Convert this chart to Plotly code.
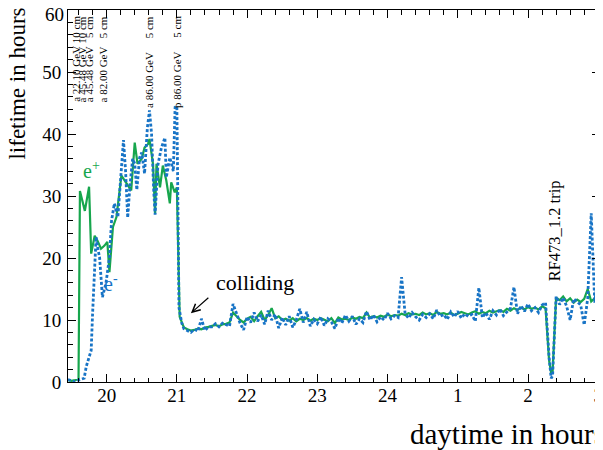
import plotly.graph_objects as go

# ---------------- data ----------------
t_ep_early = [19.45, 19.50, 19.55, 19.60, 19.62, 19.69, 19.75, 19.78, 19.83, 19.87,
              19.92, 19.97, 20.01, 20.04, 20.09, 20.14, 20.21, 20.28, 20.35, 20.40,
              20.44, 20.50, 20.54, 20.59, 20.61, 20.66, 20.69, 20.71, 20.76, 20.80,
              20.85, 20.90, 20.92, 20.97, 21.00, 21.04]
v_ep_early = [0.3, 0.2, 0.3, 0.5, 30.8, 27.6, 31.5, 20.7, 23.6, 22.8,
              21.5, 22.0, 22.6, 17.7, 25.0, 26.6, 33.3, 32.0, 30.9, 38.6,
              35.2, 36.0, 37.8, 38.4, 39.2, 35.2, 27.2, 35.2, 31.4, 34.9,
              32.5, 28.8, 32.2, 30.6, 31.4, 10.5]

t_em_early = [19.45, 19.50, 19.55, 19.60, 19.63, 19.68, 19.71, 19.74, 19.78, 19.80,
              19.83, 19.85, 19.87, 19.90, 19.92, 19.94, 19.99, 20.04, 20.07, 20.11,
              20.16, 20.19, 20.24, 20.27, 20.30, 20.33, 20.37, 20.40, 20.43, 20.47,
              20.50, 20.54, 20.58, 20.61, 20.64, 20.67, 20.69, 20.73, 20.78, 20.83,
              20.85, 20.90, 20.95, 20.975, 21.00, 21.03, 21.07]
v_em_early = [0.4, 0.2, 0.0, 0.3, 0.4, 0.6, 2.5, 3.8, 5.1, 11.0,
              19.6, 23.4, 21.8, 20.1, 16.9, 13.7, 15.9, 20.1, 26.0, 28.8,
              26.6, 30.9, 39.0, 34.0, 26.5, 31.4, 36.0, 35.2, 31.0, 36.2,
              37.0, 33.6, 41.0, 43.8, 40.0, 31.0, 27.0, 35.0, 37.8, 39.4,
              33.0, 36.2, 34.0, 44.3, 44.5, 12.0, 9.5]

t_late = [21.10, 21.15, 21.20, 21.25, 21.30, 21.35, 21.40, 21.45, 21.50, 21.55,
          21.60, 21.65, 21.70, 21.75, 21.80, 21.85, 21.90, 21.95, 22.00,
          22.05, 22.10, 22.15, 22.20, 22.25, 22.30, 22.35, 22.40, 22.45, 22.50,
          22.55, 22.60, 22.65, 22.70, 22.75, 22.80, 22.85, 22.90, 22.95, 23.00,
          23.05, 23.10, 23.15, 23.20, 23.25, 23.30, 23.35, 23.40, 23.45, 23.50,
          23.55, 23.60, 23.65, 23.70, 23.75, 23.80, 23.85, 23.90, 23.95, 24.00,
          24.05, 24.10, 24.15, 24.20, 24.25, 24.30, 24.35, 24.40, 24.45, 24.50,
          24.55, 24.60, 24.65, 24.70, 24.75, 24.80, 24.85, 24.90, 24.95, 25.00,
          25.05, 25.10, 25.15, 25.20, 25.25, 25.30, 25.35, 25.40, 25.45, 25.50,
          25.55, 25.60, 25.65, 25.70, 25.75, 25.80, 25.85, 25.90, 25.95, 26.00,
          26.05, 26.10, 26.15, 26.20, 26.25, 26.30, 26.33, 26.35, 26.40, 26.45,
          26.50, 26.55, 26.60, 26.65, 26.70, 26.75, 26.80, 26.85, 26.90, 26.95,
          27.00, 27.05]
v_ep_late = [8.8, 8.5, 8.3, 8.4, 8.6, 8.5, 8.8, 8.9, 9.0, 9.2,
             9.0, 9.3, 9.4, 9.6, 11.2, 10.6, 10.0, 9.6, 10.2,
             10.5, 9.8, 10.6, 11.3, 10.0, 10.8, 11.9, 10.3, 10.6, 10.0,
             10.2, 9.9, 10.3, 9.8, 10.2, 10.0, 10.3, 9.9, 10.2, 10.0,
             10.3, 10.1, 9.8, 10.3, 9.5, 10.4, 10.1, 10.2, 10.0, 10.4,
             10.2, 10.5, 10.3, 11.2, 10.4, 10.6, 10.4, 10.7, 10.5, 10.9,
             10.6, 10.8, 10.7, 11.0, 10.8, 11.1, 10.9, 11.0, 10.8, 11.2,
             10.9, 11.1, 10.8, 11.3, 11.0, 11.1, 10.9, 11.2, 10.8, 11.0,
             11.3, 11.1, 10.9, 11.2, 11.4, 11.0, 11.3, 11.1, 11.5, 11.2,
             11.4, 11.6, 11.3, 11.8, 11.5, 11.9, 11.6, 12.0, 11.7, 12.1,
             11.8, 12.0, 11.7, 12.2, 11.9, 3.5, 1.4, 1.6, 13.6, 13.2,
             13.8, 13.0, 13.5, 12.8, 13.3, 12.9, 13.4, 15.0, 13.0, 13.5,
             13.2, 14.0]
v_em_late = [8.6, 8.3, 8.0, 8.5, 8.2, 10.2, 8.3, 8.9, 8.9, 9.4,
             8.9, 9.5, 9.2, 9.0, 12.6, 11.0, 9.5, 8.4, 10.5,
             9.6, 11.2, 9.8, 10.8, 9.3, 11.5, 10.0, 10.9, 8.7, 10.4,
             9.2, 10.6, 8.8, 10.0, 11.8, 9.6, 11.3, 9.0, 10.1, 9.4,
             10.5, 9.1, 10.2, 9.7, 8.6, 10.3, 9.5, 10.8, 9.8, 10.6,
             9.3, 10.2, 9.6, 11.4, 10.0, 10.8, 9.7, 10.5, 10.0, 11.1,
             10.2, 10.7, 10.4, 16.9, 11.0, 10.3, 11.2, 10.5, 10.0, 10.9,
             10.4, 11.0, 10.2, 11.6, 10.6, 10.9, 10.1, 11.3, 10.5, 11.4,
             10.3, 11.0, 10.6, 10.9, 9.8, 15.2, 10.4, 11.2, 10.1, 11.5,
             10.8, 11.8, 10.7, 11.3, 11.9, 15.3, 11.0, 12.3, 11.4, 12.6,
             11.5, 12.0, 11.2, 12.4, 12.8, 4.0, 0.6, 1.0, 13.8, 12.5,
             13.6, 12.2, 10.0, 13.4, 13.0, 12.4, 9.2, 13.5, 27.2, 12.8,
             17.5, 13.8]

x_tick_vals = [20, 21, 22, 23, 24, 25, 26, 27]
x_tick_text = ["20", "21", "22", "23", "24", "1", "2", "3"]
y_tick_vals = [0, 10, 20, 30, 40, 50, 60]
y_tick_text = ["0", "10", "20", "30", "40", "50", ""]   # "60" is placed as a text below

event_t = [19.56, 19.655, 19.75, 19.954, 20.602, 21.0]
event_labels = ["a 22.10 GeV\u00a010 cm", "a 45.48 GeV\u00a010 cm",
                "a 45.48 GeV\u00a0\u00a0\u00a05 cm", "a 82.00 GeV\u00a0\u00a0\u00a05 cm",
                "a 86.00 GeV\u00a0\u00a0\u00a0\u00a0\u00a05 cm",
                "p 86.00 GeV\u00a0\u00a0\u00a0\u00a0\u00a05 cm"]

GREEN = "#17a64d"
BLUE = "#1874c6"
FONT = "Liberation Serif"
X_RANGE = [19.45, 27.025]
Y_RANGE = [0, 60]

t_ep = t_ep_early + t_late
v_ep = v_ep_early + v_ep_late
t_em = t_em_early + t_late
v_em = v_em_early + v_em_late

fig = go.Figure()
fig.add_trace(go.Scatter(x=t_ep, y=v_ep, mode="lines", name="e+",
                         line=dict(color=GREEN, width=2.2), showlegend=False,
                         hoverinfo="skip"))
fig.add_trace(go.Scatter(x=t_em, y=v_em, mode="lines", name="e-",
                         line=dict(color=BLUE, width=2.8, dash="3px,2px"),
                         showlegend=False, hoverinfo="skip"))

axis_common = dict(showgrid=False, zeroline=False, showline=True, linecolor="black",
                   linewidth=1, mirror="allticks", ticks="inside", tickcolor="black",
                   tickwidth=1, ticklen=8, ticklabeloverflow="allow", automargin=False,
                   tickfont=dict(family=FONT, size=19, color="black"))

fig.update_xaxes(range=X_RANGE, tickvals=x_tick_vals, ticktext=x_tick_text,
                 minor=dict(dtick=0.2, tick0=20, ticks="inside", ticklen=4.5,
                            tickcolor="black", tickwidth=1),
                 ticklabelstandoff=-4, **axis_common)
fig.update_yaxes(range=Y_RANGE, tickvals=y_tick_vals, ticktext=y_tick_text,
                 minor=dict(dtick=2, tick0=0, ticks="inside", ticklen=4.5,
                            tickcolor="black", tickwidth=1),
                 ticklabelstandoff=2, **axis_common)

annotations = []
for t, lab in zip(event_t, event_labels):
    annotations.append(dict(x=t, xref="x", y=0.989, yref="paper", text=lab,
                            textangle=-90, showarrow=False, xanchor="center",
                            yanchor="top", font=dict(family=FONT, size=11, color="black")))

annotations += [
    dict(x=-0.004, y=60, xref="paper", yref="y", text="60", showarrow=False,
         xanchor="right", yanchor="middle", yshift=-4,
         font=dict(family=FONT, size=19, color="black")),
    dict(x=19.79, y=34.2, xref="x", yref="y", text="e<sup>+</sup>", showarrow=False,
         font=dict(family=FONT, size=20, color=GREEN)),
    dict(x=20.06, y=16.0, xref="x", yref="y", text="e<sup>-</sup>", showarrow=False,
         font=dict(family=FONT, size=20, color=BLUE)),
    dict(x=22.11, y=16.0, xref="x", yref="y", text="colliding", showarrow=False,
         font=dict(family=FONT, size=22, color="black")),
    dict(x=21.2, y=11.1, xref="x", yref="y", ax=21.47, ay=13.8, axref="x", ayref="y",
         text="", showarrow=True, arrowhead=5, arrowsize=1.3, arrowwidth=1.2,
         arrowcolor="black"),
    dict(x=26.37, y=24.3, xref="x", yref="y", text="RF473_1.2 trip", showarrow=False,
         textangle=-90, font=dict(family=FONT, size=16.5, color="black")),
    dict(x=0.639, y=-0.141, xref="paper", yref="paper", text="daytime in hours",
         showarrow=False, xanchor="left", yanchor="middle",
         font=dict(family=FONT, size=29, color="black")),
    dict(x=-0.094, y=1.012, xref="paper", yref="paper", text="lifetime in hours",
         showarrow=False, textangle=-90, xanchor="center", yanchor="top",
         font=dict(family=FONT, size=23, color="black")),
]

# the page adds an 8 px body margin, so the figure is sized/shifted accordingly
fig.update_layout(width=595, height=442, autosize=False,
                  margin=dict(l=60, r=3, t=2, b=67.5, pad=0, autoexpand=False),
                  paper_bgcolor="white", plot_bgcolor="white",
                  annotations=annotations, showlegend=False)

fig.write_html("out.html")
